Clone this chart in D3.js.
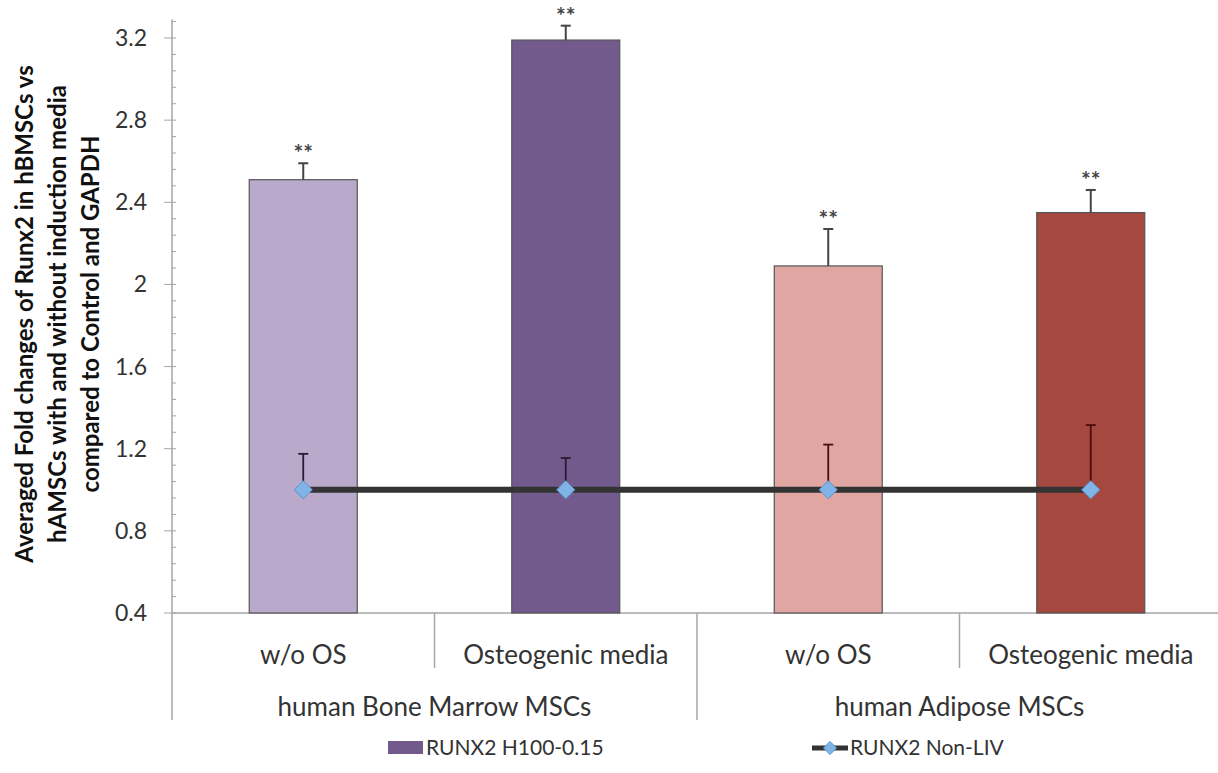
<!DOCTYPE html>
<html>
<head>
<meta charset="utf-8">
<script src="https://cdn.jsdelivr.net/npm/d3@7"></script>
<style>
  body { margin: 0; background: #fff; }
  text { font-family: Lato, "Open Sans", sans-serif; fill: #333; }
</style>
</head>
<body>
<div id="chart"></div>
<script>
// categories
var conditions = ["w/o OS", "Osteogenic media", "w/o OS", "Osteogenic media"];
var groups = ["human Bone Marrow MSCs", "human Adipose MSCs"];

// bar series: RUNX2 H100-0.15
var barValues = [2.51, 3.19, 2.09, 2.35];
var barErrors = [0.08, 0.07, 0.18, 0.11];
var barColors = ["#b9a9cb", "#735a8c", "#e0a7a2", "#a5483f"];

// line series: RUNX2 Non-LIV
var lineValues = [1.0, 1.0, 1.0, 1.0];
var lineErrors = [0.175, 0.155, 0.22, 0.315];
var lineErrColors = ["#2b1a33", "#2b1a33", "#4a0c0c", "#4a0c0c"];

var yTicks = [0.4, 0.8, 1.2, 1.6, 2, 2.4, 2.8, 3.2];

var svgWidth = 1218;
var svgHeight = 773;

var svg = d3.select("#chart")
  .append("svg")
  .attr("width", svgWidth)
  .attr("height", svgHeight);

var x0 = 172, x1 = 1222;
var y = d3.scaleLinear()
  .domain([0.4, 3.2])
  .range([613, 38]);

var x = d3.scaleBand()
  .domain(d3.range(conditions.length))
  .range([x0, x1])
  .paddingInner(0)
  .paddingOuter(0);

var barW = 108;

// y axis
var minorTicks = d3.range(0.4, 3.29, 0.08);
var yAxis = svg.append("g").attr("transform", "translate(" + x0 + ",0)");
yAxis.append("line")
  .attr("y1", y(3.29)).attr("y2", y(0.4))
  .attr("stroke", "#a6a6a6").attr("stroke-width", 1.5);
yAxis.selectAll(".minor")
  .data(minorTicks)
  .enter().append("line")
  .attr("x1", 0).attr("x2", 4)
  .attr("y1", d => y(d)).attr("y2", d => y(d))
  .attr("stroke", "#a6a6a6");
yAxis.selectAll(".major")
  .data(yTicks)
  .enter().append("line")
  .attr("x1", -8).attr("x2", 0)
  .attr("y1", d => y(d)).attr("y2", d => y(d))
  .attr("stroke", "#a6a6a6");
yAxis.selectAll(".lbl")
  .data(yTicks)
  .enter().append("text")
  .attr("x", -25)
  .attr("y", d => y(d))
  .attr("dy", "0.35em")
  .attr("text-anchor", "end")
  .attr("font-size", "23px")
  .text(d => d3.format(".1~f")(d));

// y axis title
var title = ["Averaged Fold changes of Runx2 in hBMSCs vs",
  "hAMSCs with and without induction media",
  "compared to Control and GAPDH"];
svg.append("g")
  .attr("transform", "translate(25,314) rotate(-90)")
  .selectAll("text")
  .data(title)
  .enter().append("text")
  .attr("x", 0)
  .attr("y", (d, i) => i * 33)
  .attr("dy", "0.35em")
  .attr("text-anchor", "middle")
  .attr("font-size", "24px")
  .attr("font-weight", "bold")
  .style("fill", "#111")
  .text(d => d);

// x axis baseline and dividers
svg.append("line")
  .attr("x1", x0).attr("x2", x1)
  .attr("y1", y(0.4)).attr("y2", y(0.4))
  .attr("stroke", "#a6a6a6").attr("stroke-width", 1.5);
d3.range(conditions.length + 1).forEach(function(i) {
  var xx = x0 + i * x.bandwidth();
  svg.append("line")
    .attr("x1", xx).attr("x2", xx)
    .attr("y1", y(0.4)).attr("y2", i % 2 === 0 ? 720 : 668)
    .attr("stroke", "#a6a6a6").attr("stroke-width", 1.5);
});

// bars
svg.selectAll(".bar")
  .data(barValues)
  .enter().append("rect")
  .attr("x", (d, i) => x(i) + x.bandwidth() / 2 - barW / 2)
  .attr("y", d => y(d))
  .attr("width", barW)
  .attr("height", d => y(0.4) - y(d))
  .attr("fill", (d, i) => barColors[i])
  .attr("stroke", "#555")
  .attr("stroke-width", 1.2);

// bar error bars
barValues.forEach(function(v, i) {
  var cx = x(i) + x.bandwidth() / 2;
  var top = y(v + barErrors[i]);
  svg.append("line")
    .attr("x1", cx).attr("x2", cx)
    .attr("y1", y(v)).attr("y2", top)
    .attr("stroke", "#444").attr("stroke-width", 2);
  svg.append("line")
    .attr("x1", cx - 5).attr("x2", cx + 5)
    .attr("y1", top).attr("y2", top)
    .attr("stroke", "#444").attr("stroke-width", 2);
  svg.append("text")
    .attr("x", cx)
    .attr("y", top - 2)
    .attr("text-anchor", "middle")
    .attr("font-size", "23px")
    .attr("font-weight", "bold")
    .style("fill", "#444")
    .text("**");
});

// line error bars
lineValues.forEach(function(v, i) {
  var cx = x(i) + x.bandwidth() / 2;
  var top = y(v + lineErrors[i]);
  svg.append("line")
    .attr("x1", cx).attr("x2", cx)
    .attr("y1", y(v)).attr("y2", top)
    .attr("stroke", lineErrColors[i]).attr("stroke-width", 1.8);
  svg.append("line")
    .attr("x1", cx - 5).attr("x2", cx + 5)
    .attr("y1", top).attr("y2", top)
    .attr("stroke", lineErrColors[i]).attr("stroke-width", 1.8);
});

// line series
var line = d3.line()
  .x((d, i) => x(i) + x.bandwidth() / 2)
  .y(d => y(d));
svg.append("path")
  .datum(lineValues)
  .attr("d", line)
  .attr("fill", "none")
  .attr("stroke", "#333")
  .attr("stroke-width", 6);

var diamond = d3.symbol().type(d3.symbolDiamond2).size(210);
svg.selectAll(".pt")
  .data(lineValues)
  .enter().append("path")
  .attr("d", diamond)
  .attr("transform", (d, i) => "translate(" + (x(i) + x.bandwidth() / 2) + "," + y(d) + ")")
  .attr("fill", "#80b4e6")
  .attr("stroke", "#5b93cf")
  .attr("stroke-width", 1);

// category labels
svg.selectAll(".cat")
  .data(conditions)
  .enter().append("text")
  .attr("x", (d, i) => x(i) + x.bandwidth() / 2)
  .attr("y", 655)
  .attr("dy", "0.35em")
  .attr("text-anchor", "middle")
  .attr("font-size", "26px")
  .text(d => d);

svg.selectAll(".grp")
  .data(groups)
  .enter().append("text")
  .attr("x", (d, i) => x(i * 2) + x.bandwidth())
  .attr("y", 707)
  .attr("dy", "0.35em")
  .attr("text-anchor", "middle")
  .attr("font-size", "26px")
  .text(d => d);

// legend
var legend = svg.append("g");
legend.append("rect")
  .attr("x", 388).attr("y", 741)
  .attr("width", 35).attr("height", 13)
  .attr("fill", "#735a8c");
legend.append("text")
  .attr("x", 426).attr("y", 748)
  .attr("dy", "0.35em")
  .attr("font-size", "21px")
  .text("RUNX2 H100-0.15");
legend.append("line")
  .attr("x1", 812).attr("x2", 848)
  .attr("y1", 748).attr("y2", 748)
  .attr("stroke", "#333").attr("stroke-width", 5);
legend.append("path")
  .attr("d", d3.symbol().type(d3.symbolDiamond2).size(110))
  .attr("transform", "translate(830,748)")
  .attr("fill", "#80b4e6")
  .attr("stroke", "#5b93cf");
legend.append("text")
  .attr("x", 850).attr("y", 748)
  .attr("dy", "0.35em")
  .attr("font-size", "21px")
  .text("RUNX2 Non-LIV");
</script>
</body>
</html>
